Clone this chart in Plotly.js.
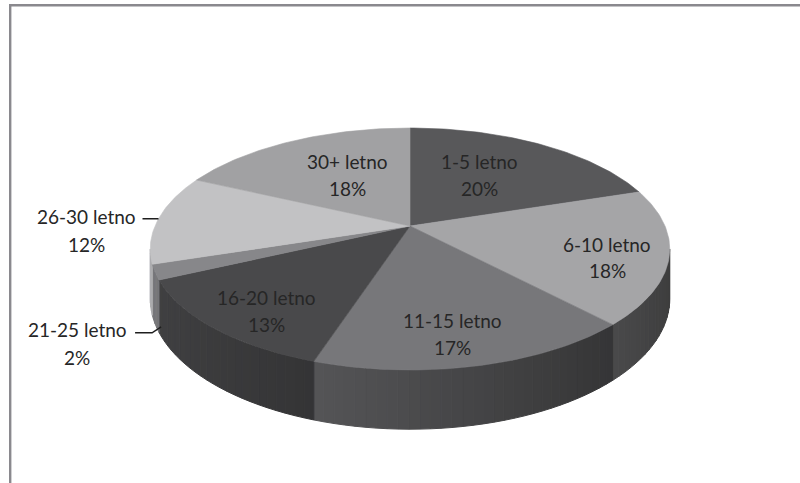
<!DOCTYPE html>
<html>
<head>
<meta charset="utf-8">
<script src="https://cdn.plot.ly/plotly-3.0.1.min.js"></script>
<style>
  html, body { margin: 0; padding: 0; background: #ffffff; }
  #chart { width: 800px; height: 483px; }
</style>
</head>
<body>
<div id="chart"></div>
<script>
// Age groups and their shares (percent), clockwise from 12 o'clock
const categories = ['1-5 letno', '6-10 letno', '11-15 letno', '16-20 letno', '21-25 letno', '26-30 letno', '30+ letno'];
const shares = [20, 18, 17, 13, 2, 12, 18];

// Top-face colours of each slice
const sliceColors = ['#58585a', '#a5a5a7', '#77777a', '#49494b', '#87878a', '#c2c2c4', '#a1a1a3'];

// Label placement: [x, y of name line, y of percent line]
const labelPos = [[479, 161, 188], [607, 244, 270], [452, 320, 347], [266, 297, 324], [77, 329, 357], [86, 216, 244], [347, 161, 188]];
// Slices whose labels sit outside with a leader line: index -> anchor on rim ('top') or wall ('bottom')
const outsideLabels = { 4: 'bottom', 5: 'top' };

// Perspective disc geometry (plot units = pixels)
const CX = 410, CY = 226, RX = 255, RY = 116.6, K = 0.19, DEPTH = 48;
const WALL_FROM = 101, WALL_TO = 259; // visible part of the side wall, degrees clockwise from top

function proj(deg, r) {
  const t = deg * Math.PI / 180;
  const u = r * Math.sin(t), v = -r * Math.cos(t);
  const s = 1 / (1 - K * v);
  return { x: CX + RX * u * s, y: CY + RY * v * s, s: s, u: u };
}

function shade(hex, f) {
  const n = parseInt(hex.slice(1), 16);
  const c = [(n >> 16) & 255, (n >> 8) & 255, n & 255].map(v => Math.max(0, Math.min(255, Math.round(v * f))));
  return 'rgb(' + c.join(',') + ')';
}

const total = shares.reduce((a, b) => a + b, 0);
const bounds = [];
let acc = 0;
shares.forEach(v => { const a0 = acc / total * 360; acc += v; bounds.push([a0, acc / total * 360]); });

const traces = [];

// Side wall, drawn in narrow strips so the lighting can vary round the rim
bounds.forEach((b, i) => {
  const lo = Math.max(b[0], WALL_FROM), hi = Math.min(b[1], WALL_TO);
  if (lo >= hi) return;
  const n = Math.max(1, Math.ceil((hi - lo) / 2));
  for (let j = 0; j < n; j++) {
    const t0 = lo + (hi - lo) * j / n, t1 = lo + (hi - lo) * (j + 1) / n;
    const p0 = proj(t0, 1), p1 = proj(t1, 1), pm = proj((t0 + t1) / 2, 1);
    const col = shade(sliceColors[i], 0.63 - 0.27 * pm.u);
    traces.push({
      type: 'scatter', mode: 'lines', fill: 'toself', fillcolor: col,
      line: { color: col, width: 1 },
      x: [p0.x, p1.x, p1.x, p0.x, p0.x],
      y: [p0.y, p1.y, p1.y + DEPTH * p1.s, p0.y + DEPTH * p0.s, p0.y],
      hoverinfo: 'skip', showlegend: false
    });
  }
});

// Top faces
bounds.forEach((b, i) => {
  const xs = [CX], ys = [CY];
  const n = Math.max(2, Math.ceil(b[1] - b[0]));
  for (let j = 0; j <= n; j++) {
    const p = proj(b[0] + (b[1] - b[0]) * j / n, 1);
    xs.push(p.x); ys.push(p.y);
  }
  xs.push(CX); ys.push(CY);
  traces.push({
    type: 'scatter', mode: 'lines', fill: 'toself', fillcolor: sliceColors[i],
    line: { color: sliceColors[i], width: 0.6 },
    x: xs, y: ys, name: categories[i],
    text: categories[i] + ': ' + shares[i] + '%', hoverinfo: 'text', showlegend: false
  });
});

// Leader lines for the small outside labels
Object.keys(outsideLabels).forEach(k => {
  const i = +k;
  const mid = (bounds[i][0] + bounds[i][1]) / 2;
  const p = proj(mid, 1);
  const ax = p.x, ay = outsideLabels[k] === 'bottom' ? p.y + DEPTH * p.s : p.y;
  const lx = outsideLabels[k] === 'bottom' ? [ax - 20, ax - 3, ax + 6] : [ax - 16, ax];
  const ly = outsideLabels[k] === 'bottom' ? [ay + 9, ay + 9, ay + 3] : [ay, ay];
  traces.push({
    type: 'scatter', mode: 'lines', x: lx, y: ly,
    line: { color: '#1e1e1e', width: 1.5 }, hoverinfo: 'skip', showlegend: false
  });
});

// Category and percentage labels
const annotations = [];
categories.forEach((c, i) => {
  const [lx, ny, py] = labelPos[i];
  const font = { family: 'Lato, "Open Sans", sans-serif', size: 19, color: '#262626' };
  annotations.push({ x: lx, y: ny, xref: 'x', yref: 'y', text: c, showarrow: false, font: font, xanchor: 'center', yanchor: 'middle' });
  annotations.push({ x: lx, y: py, xref: 'x', yref: 'y', text: shares[i] + '%', showarrow: false, font: font, xanchor: 'center', yanchor: 'middle' });
});

const layout = {
  width: 800, height: 483,
  margin: { l: 0, r: 0, t: 0, b: 0 },
  paper_bgcolor: '#ffffff', plot_bgcolor: '#ffffff',
  xaxis: { range: [0, 800], visible: false, fixedrange: true },
  yaxis: { range: [483, 0], visible: false, fixedrange: true },
  annotations: annotations,
  shapes: [
    // chart-area frame (runs off the right and bottom edges)
    { type: 'line', xref: 'x', yref: 'y', x0: 9, y0: 5.2, x1: 820, y1: 5.2, line: { color: '#8a898e', width: 2.6 } },
    { type: 'line', xref: 'x', yref: 'y', x0: 10.2, y0: 4, x1: 10.2, y1: 500, line: { color: '#8a898e', width: 2.4 } }
  ],
  showlegend: false
};

Plotly.newPlot('chart', traces, layout, { displayModeBar: false, staticPlot: true });
</script>
</body>
</html>
